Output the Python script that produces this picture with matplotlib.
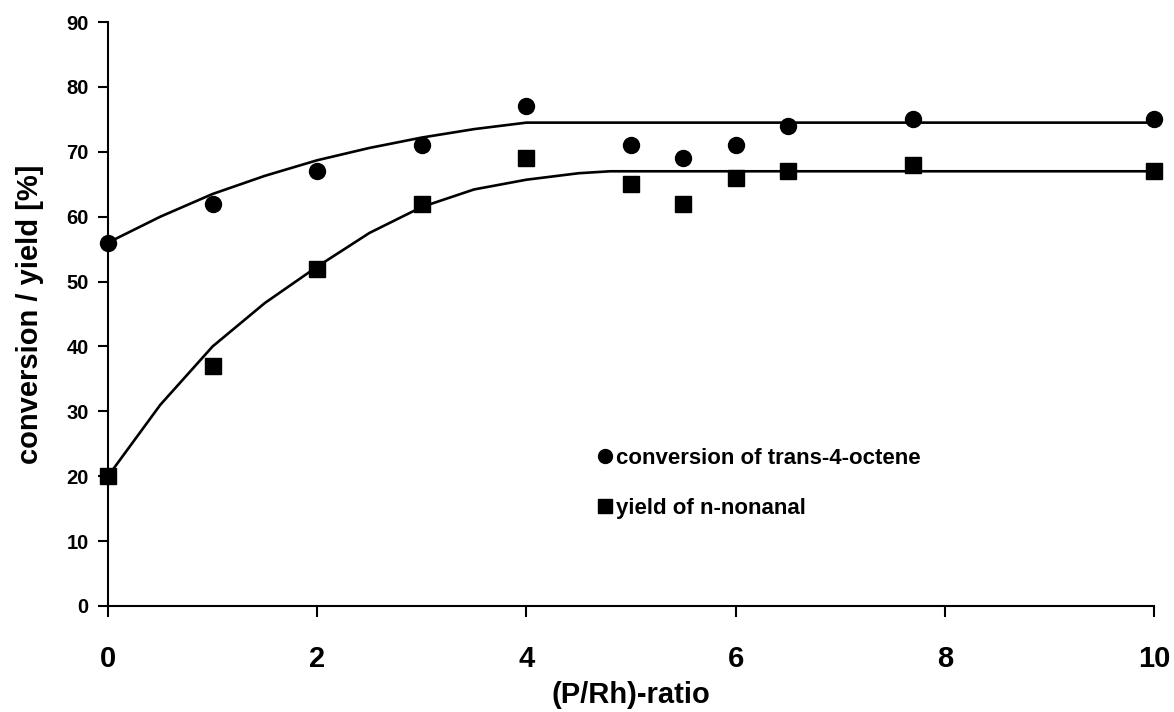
import matplotlib.pyplot as plt
from matplotlib.lines import Line2D

plt.rcParams['font.family'] = ['Liberation Sans', 'DejaVu Sans']
plt.rcParams['font.weight'] = 'bold'

# measured points
ratio = [0, 1, 2, 3, 4, 5, 5.5, 6, 6.5, 7.7, 10]
conversion = [56, 62, 67, 71, 77, 71, 69, 71, 74, 75, 75]
yield_nonanal = [20, 37, 52, 62, 69, 65, 62, 66, 67, 68, 67]

# trend lines
conv_fit_x = [0, 0.5, 1, 1.5, 2, 2.5, 3, 3.5, 4, 10]
conv_fit_y = [56, 60.0, 63.5, 66.3, 68.7, 70.6, 72.2, 73.5, 74.5, 74.5]
yield_fit_x = [0, 0.5, 1, 1.5, 2, 2.5, 3, 3.5, 4, 4.5, 4.8, 10]
yield_fit_y = [20, 31.0, 40.0, 46.7, 52.3, 57.5, 61.5, 64.2, 65.7, 66.7, 67, 67]

fig = plt.figure(figsize=(11.74, 7.12), dpi=100)
ax = fig.add_axes([0.092, 0.149, 0.891, 0.820])

ax.plot(conv_fit_x, conv_fit_y, color='black', lw=1.9, clip_on=False)
ax.plot(yield_fit_x, yield_fit_y, color='black', lw=1.9, clip_on=False)
ax.plot(ratio, conversion, 'o', color='black', ms=11.5, clip_on=False, zorder=3)
ax.plot(ratio, yield_nonanal, 's', color='black', ms=11, clip_on=False, zorder=3)

ax.set_xlim(0, 10)
ax.set_ylim(0, 90)
ax.set_xticks(range(0, 11, 2))
ax.set_yticks(range(0, 91, 10))
ax.spines['top'].set_visible(False)
ax.spines['right'].set_visible(False)
for s in ['left', 'bottom']:
    ax.spines[s].set_linewidth(1.5)
ax.tick_params(axis='x', direction='out', length=8, width=1.5, labelsize=21, pad=20)
ax.tick_params(axis='y', direction='out', length=7, width=1.5, labelsize=14.5, pad=7)

ax.set_xlabel('(P/Rh)-ratio', fontsize=21, fontweight='bold', labelpad=6)
ax.set_ylabel('conversion / yield [%]', fontsize=21, fontweight='bold', labelpad=16)

handles = [
    Line2D([], [], marker='o', ls='none', color='black', ms=10),
    Line2D([], [], marker='s', ls='none', color='black', ms=10),
]
ax.legend(handles, ['conversion of trans-4-octene', 'yield of n-nonanal'],
          loc='upper left', bbox_to_anchor=(0.446, 0.305), frameon=False,
          labelspacing=1.3, handletextpad=0.05, handlelength=0.9,
          prop={'weight': 'bold', 'size': 16})

fig.savefig('out.png', dpi=100)
